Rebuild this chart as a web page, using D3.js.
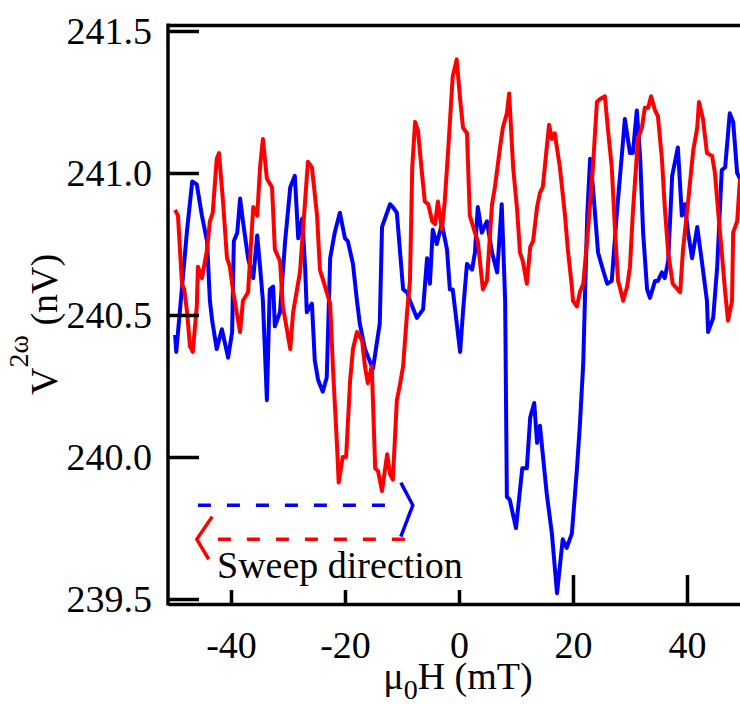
<!DOCTYPE html>
<html lang="en">
<head>
  <title>Second harmonic voltage vs field</title>
  <meta charset="UTF-8">
  <style>
    body { margin: 0; background: #fff; }
    svg { display: block; }
    svg text { font-family: "Liberation Serif", "Times New Roman", serif; }
  </style>
  <script src="https://cdn.jsdelivr.net/npm/d3@7"></script>
</head>
<body>
<script>
// field sweep, blue = increasing field (mT)
var blueField = [-49.8,-49.6,-47.7,-46.8,-46.0,-45.1,-44.2,-43.7,-43.3,-42.5,-41.6,-40.5,-39.8,-39.5,-38.9,-38.4,-37.9,-37.0,-36.1,-35.4,
  -34.9,-34.4,-33.7,-33.2,-32.6,-32.3,-31.4,-30.5,-29.6,-28.8,-28.2,-27.5,-27.0,-26.7,-25.8,-25.3,-24.7,-23.9,-23.2,-22.6,
  -21.8,-20.9,-20.0,-19.5,-18.6,-17.9,-17.4,-16.5,-15.1,-13.9,-13.5,-12.1,-11.6,-10.9,-9.8,-9.1,-8.6,-7.4,-6.3,-5.6,
  -5.1,-4.6,-3.9,-3.0,-2.1,-1.6,-1.1,0.2,0.7,1.4,2.3,2.8,3.3,4.0,4.9,5.8,6.7,7.5,8.1,8.4,
  8.9,10.0,11.1,11.9,12.5,13.2,13.7,14.2,15.4,16.3,17.2,18.2,18.9,19.8,20.7,21.2,21.8,22.1,22.5,23.0,
  23.5,24.4,25.1,26.0,26.8,27.7,28.6,29.1,30.0,30.5,31.2,31.8,32.3,33.0,33.5,34.4,34.9,35.6,36.1,36.7,
  37.4,37.9,38.4,39.1,39.6,40.2,40.9,41.8,42.6,43.5,43.7,44.6,45.3,46.1,46.7,47.5,48.1,48.8,49.3];
var blueV = [240.43,240.37,240.80,240.97,240.96,240.85,240.76,240.55,240.48,240.38,240.45,240.35,240.44,240.76,240.79,240.91,240.83,240.70,240.63,240.78,
  240.67,240.55,240.20,240.59,240.60,240.46,240.51,240.76,240.95,240.99,240.77,240.84,240.67,240.51,240.54,240.34,240.27,240.23,240.28,240.70,
  240.79,240.86,240.77,240.76,240.68,240.55,240.47,240.38,240.31,240.47,240.81,240.89,240.88,240.86,240.59,240.58,240.55,240.49,240.52,240.70,
  240.61,240.80,240.75,240.82,240.73,240.59,240.59,240.37,240.51,240.68,240.66,240.72,240.88,240.79,240.83,240.72,240.65,240.89,240.55,239.86,
  239.85,239.75,239.96,239.96,240.14,240.19,240.05,240.11,239.87,239.73,239.52,239.71,239.68,239.73,239.96,240.11,240.33,240.56,240.85,241.05,
  240.95,240.72,240.67,240.61,240.62,240.86,241.07,241.19,241.07,241.07,241.22,241.05,240.79,240.59,240.56,240.62,240.62,240.65,240.63,240.69,
  240.99,241.04,241.09,240.85,240.89,240.79,240.70,240.81,240.69,240.55,240.44,240.49,240.67,241.01,241.02,241.21,241.18,241.00,240.98];

// red = decreasing field
var redField = [-49.8,-49.3,-48.6,-48.2,-47.7,-47.2,-46.7,-46.0,-45.8,-45.1,-44.2,-43.7,-43.2,-42.5,-42.1,-41.4,-40.7,-40.2,-39.6,-38.4,
  -37.9,-37.0,-36.1,-35.4,-34.9,-34.4,-33.7,-32.8,-32.3,-31.4,-30.9,-30.2,-29.6,-29.1,-27.9,-27.4,-26.5,-25.8,-24.9,-24.4,
  -23.5,-22.6,-22.1,-21.4,-21.1,-20.4,-19.8,-19.1,-18.6,-17.9,-17.0,-16.5,-16.0,-15.3,-14.7,-14.2,-13.5,-12.6,-12.1,-11.6,
  -10.9,-10.4,-9.8,-9.1,-8.6,-8.2,-7.7,-7.2,-6.5,-6.0,-5.4,-4.7,-4.2,-3.7,-3.0,-2.5,-1.9,-1.1,-0.4,0.2,
  0.7,1.4,1.9,2.8,3.3,4.2,4.9,5.8,6.3,7.2,7.7,8.4,8.8,9.5,10.2,10.7,11.2,11.9,12.5,13.0,
  13.7,14.2,14.7,15.4,15.8,16.3,16.8,17.7,18.6,19.1,19.8,20.0,20.7,21.2,21.8,22.6,23.5,24.2,24.7,25.6,
  26.1,26.8,27.4,27.9,28.2,28.8,29.5,30.0,30.5,31.4,32.1,32.6,33.2,33.7,34.4,34.9,35.6,36.1,36.7,37.5,
  38.8,39.3,40.2,41.1,41.8,42.1,42.8,43.5,44.4,44.9,45.4,46.1,46.7,47.2,47.9,48.1,48.8,49.3];
var redV = [240.87,240.85,240.61,240.59,240.51,240.39,240.37,240.53,240.67,240.63,240.73,240.83,240.86,241.05,241.07,240.90,240.70,240.67,240.58,240.44,
  240.55,240.58,240.88,240.85,241.02,241.12,240.98,240.95,240.73,240.69,240.53,240.45,240.38,240.51,240.65,240.79,241.04,241.02,240.85,240.66,
  240.60,240.54,240.31,240.04,239.91,240.00,240.00,240.27,240.38,240.44,240.41,240.32,240.26,240.32,239.96,239.95,239.88,240.01,239.94,239.92,
  240.20,240.25,240.32,240.51,240.62,241.02,241.18,241.15,241.00,240.90,240.89,240.83,240.82,240.90,240.80,240.90,241.08,241.34,241.40,241.26,
  241.16,241.14,240.85,240.79,240.76,240.59,240.62,240.89,240.95,241.09,241.16,241.21,241.28,241.02,240.87,240.72,240.69,240.61,240.74,240.76,
  240.88,240.93,240.95,241.09,241.17,241.12,241.14,241.02,240.85,240.73,240.60,240.55,240.53,240.58,240.61,240.79,241.02,241.25,241.26,241.27,
  241.16,241.02,240.79,240.62,240.60,240.55,240.60,240.67,240.86,241.12,241.16,241.23,241.23,241.27,241.22,241.20,241.05,240.88,240.72,240.61,
  240.58,240.73,240.90,241.08,241.16,241.25,241.19,241.07,241.06,241.00,240.88,240.72,240.58,240.48,240.55,240.79,240.83,240.98];

var xTicks = [-40, -20, 0, 20, 40];
var yTicks = [239.5, 240.0, 240.5, 241.0, 241.5];

var W = 740, H = 705;
var mLeft = 168, mTop = 25, mBottom = 604;

var svg = d3.select("body").append("svg")
  .attr("width", W)
  .attr("height", H);

var x = d3.scaleLinear().domain([-51.05, 50.3]).range([mLeft, 745.7]);
var y = d3.scaleLinear().domain([239.4824, 241.5211]).range([mBottom, mTop]);

var line = d3.line()
  .x(function(d) { return x(d[0]); })
  .y(function(d) { return y(d[1]); });

var blue = blueField.map(function(f, i) { return [f, blueV[i]]; });
var red = redField.map(function(f, i) { return [f, redV[i]]; });

svg.append("path").datum(blue)
  .attr("d", line)
  .attr("fill", "none")
  .attr("stroke", "#0000ff")
  .attr("stroke-width", 4)
  .attr("stroke-linejoin", "round");

svg.append("path").datum(red)
  .attr("d", line)
  .attr("fill", "none")
  .attr("stroke", "#ff0000")
  .attr("stroke-width", 4)
  .attr("stroke-linejoin", "round");

// axes
var yAxis = d3.axisLeft(y)
  .tickValues(yTicks)
  .tickFormat(d3.format(".1f"))
  .tickSize(-31)
  .tickSizeOuter(0)
  .tickPadding(16);

var gy = svg.append("g")
  .attr("transform", "translate(" + mLeft + ",0)")
  .call(yAxis);

var xAxis = d3.axisBottom(x)
  .tickValues(xTicks)
  .tickFormat(function(d) { return String(d); })   // plain hyphen, not unicode minus
  .tickSize(-14)
  .tickSizeOuter(0)
  .tickPadding(27);

var gx = svg.append("g")
  .attr("transform", "translate(0," + mBottom + ")")
  .call(xAxis);

// ticks right of zero are drawn longer in the original
gx.selectAll(".tick line")
  .attr("y2", function(d) { return d > 0 ? -29 : -14; });

var gt = svg.append("g")
  .attr("transform", "translate(0," + mTop + ")")
  .call(d3.axisTop(x).tickValues([]).tickSizeOuter(0));

[gx, gy, gt].forEach(function(g) {
  g.attr("font-family", null).attr("font-size", null);
});

svg.selectAll(".domain")
  .attr("stroke", "#000")
  .attr("stroke-width", 3.5);
svg.selectAll(".tick line")
  .attr("stroke", "#000")
  .attr("stroke-width", 3.5);
svg.selectAll(".tick text")
  .attr("fill", "#000")
  .style("font-size", "38px");

// left line spans the full frame
gy.select(".domain").attr("d", "M0," + (mTop - 1.5) + "V" + (mBottom + 1.5));

// axis titles
var yt = svg.append("text")
  .attr("transform", "translate(57,395) rotate(-90)")
  .style("font-size", "38px");
yt.append("tspan").text("V");
yt.append("tspan").attr("dy", -29).style("font-size", "28px").text("2\u03C9");
yt.append("tspan").attr("dy", 29).text(" (nV)");

var xt = svg.append("text")
  .attr("x", x(0) - 1)
  .attr("y", 689)
  .attr("text-anchor", "middle")
  .style("font-size", "38px");
xt.append("tspan").text("\u03BC");
xt.append("tspan").attr("dy", 10).style("font-size", "28px").text("0");
xt.append("tspan").attr("dy", -10).text("H (mT)");

// sweep direction legend
var gl = svg.append("g").attr("fill", "none").attr("stroke-width", 3.5);

gl.append("line")
  .attr("x1", x(-45.8)).attr("x2", x(-11.2))
  .attr("y1", y(239.83)).attr("y2", y(239.83))
  .attr("stroke", "#0000ff")
  .attr("stroke-dasharray", "13,16");
gl.append("polyline")
  .attr("points", [[x(-10.2), y(239.91)], [x(-8.1), y(239.83)], [x(-10.2), y(239.72)]].join(" "))
  .attr("stroke", "#0000ff");

gl.append("line")
  .attr("x1", x(-42.3)).attr("x2", x(-8.1))
  .attr("y1", y(239.71)).attr("y2", y(239.71))
  .attr("stroke", "#ff0000")
  .attr("stroke-dasharray", "13,16");
gl.append("polyline")
  .attr("points", [[x(-43.3), y(239.79)], [x(-46.0), y(239.71)], [x(-43.9), y(239.64)]].join(" "))
  .attr("stroke", "#ff0000");

svg.append("text")
  .attr("x", 217)
  .attr("y", 578)
  .style("font-size", "38px")
  .text("Sweep direction");
</script>
</body>
</html>
